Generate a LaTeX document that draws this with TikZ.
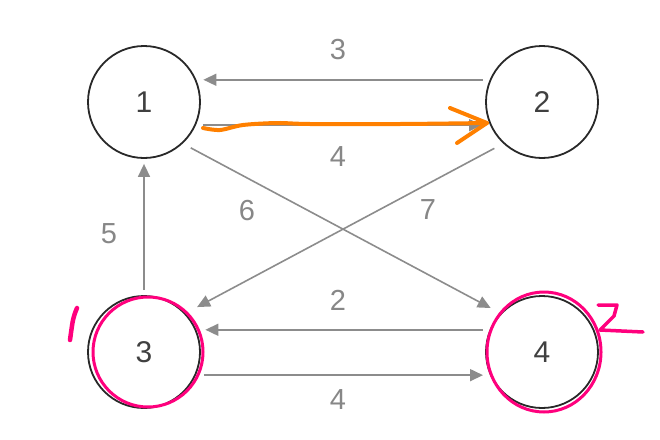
\documentclass[tikz,border=0pt]{standalone}
\usepackage{fontspec}
\setmainfont{Liberation Sans}
\usetikzlibrary{arrows.meta}
\definecolor{edgegray}{RGB}{140,140,140}
\definecolor{labgray}{RGB}{135,135,135}
\definecolor{ringc}{RGB}{40,40,40}
\definecolor{pinkc}{RGB}{255,0,125}
\definecolor{orangec}{RGB}{255,128,0}
\tikzset{
  vtx/.style={circle, draw=ringc, line width=1.8pt, minimum size=112pt, inner sep=0pt,
    text=black!75, font=\fontsize{30}{31}\selectfont},
  lab/.style={text=labgray, font=\fontsize{29}{30}\selectfont, inner sep=0pt},
  arr/.style={draw=edgegray, line width=1.6pt, -{Triangle[length=13pt,width=12pt]}},
  pinkmark/.style={draw=pinkc, line width=3pt, line cap=round, line join=round},
  orangemark/.style={draw=orangec, line width=4pt, line cap=round, line join=round},
}
\begin{document}
\begin{tikzpicture}[x=1pt,y=-1pt]
\useasboundingbox (0,0) rectangle (660,439);
\node[vtx] (n1) at (144,102) {1};
\node[vtx] (n2) at (542,102) {2};
\node[vtx] (n3) at (144,352) {3};
\node[vtx] (n4) at (542,352) {4};

\draw[arr, shorten <=7pt, shorten >=7pt] (n2.157) -- (n1.23);
\draw[arr, shorten <=7pt, shorten >=8pt] (n1.-24) -- (n2.-156);
\draw[arr, shorten <=7pt, shorten >=9pt] (n4.157) -- (n3.23);
\draw[arr, shorten <=8pt, shorten >=7pt] (n3.-24) -- (n4.-156);
\draw[arr, shorten <=5pt, shorten >=5pt] (n3.90) -- (n1.-90);
\draw[arr, shorten <=9pt, shorten >=11pt] (n1.-47) -- (n4.137);
\draw[arr, shorten <=10pt, shorten >=13pt] (n2.-133) -- (n3.43);

\node[lab] (l3) at (338,50) {3};
\node[lab] (l4a) at (338,157) {4};
\node[lab] (l6) at (247,211) {6};
\node[lab] (l7) at (428,210) {7};
\node[lab] (l5) at (109,234) {5};
\node[lab] (l2) at (338,300) {2};
\node[lab] (l4b) at (338,400) {4};

% annotations
\draw[pinkmark] (148,352) circle (55);
\draw[pinkmark] (544,352) ellipse (57 and 60);
\draw[pinkmark, line width=4.5pt] (77,308) .. controls (73,318) .. (70,340);
\draw[pinkmark, line width=3.5pt] (598,305) -- (617,305) -- (614,316) -- (600,330) -- (643,332);
\draw[orangemark] plot[smooth] coordinates {(203,128) (220,130) (243,125) (277,123) (310,124) (400,124) (487,123)};
\draw[orangemark] (450,108) -- (487,123) -- (457,143);
\end{tikzpicture}
\end{document}
